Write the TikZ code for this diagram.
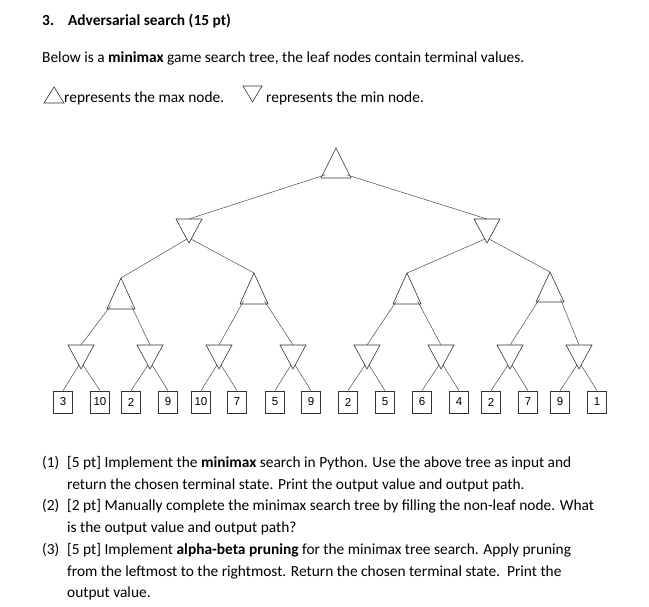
\documentclass[tikz,border=0pt]{standalone}
\usepackage{fontspec}
\setmainfont{Carlito}
\newfontfamily\leaffont{Liberation Sans}
\newcommand\MaxTri[5]{% name x ytop ybase halfwidth
  \draw[tri] (#2,#3) -- (#2+#5,#4) -- (#2-#5,#4) -- cycle;
  \coordinate (#1-in) at (#2,#3);
  \coordinate (#1-l) at (#2-0.75*#5,#4-3);
  \coordinate (#1-r) at (#2+0.75*#5,#4-3);}
\newcommand\MinTri[5]{%
  \draw[tri] (#2-#5,#3) -- (#2+#5,#3) -- (#2,#4) -- cycle;
  \coordinate (#1-in) at (#2,#3);
  \coordinate (#1-l) at (#2-2,#4-4);
  \coordinate (#1-r) at (#2+2,#4-4);}
\newcommand\Leaf[3]{%
  \node[leaf] (#1) at (#2,402) {#3};
  \coordinate (#1-in) at (#1.north);}
\begin{document}
\begin{tikzpicture}[x=1pt,y=-1pt,
  tri/.style={draw=black!80,line width=0.6pt,line join=miter},
  edge/.style={draw=black!70,line width=0.5pt},
  leaf/.style={draw=black!80,line width=0.6pt,minimum width=19pt,minimum height=22pt,inner sep=0pt,font=\leaffont\fontsize{11.5}{11.5}\selectfont},
  txt/.style={anchor=base west,inner sep=0pt,font=\fontsize{15.4}{17}\selectfont}]
\useasboundingbox (0,0) rectangle (649,607);
\node[txt] (t1) at (42,26) {\textbf{3.\hspace{14pt}Adversarial search (15 pt)}};
\node[txt] (t2) at (42,63) {Below is a \textbf{minimax} game search tree, the leaf nodes contain terminal values.};
\draw[tri] (44,103) -- (64,103) -- (54,87) -- cycle;
\node[txt] (t3) at (64,103) {represents the max node.};
\draw[tri] (243,86) -- (262,86) -- (252.5,102) -- cycle;
\node[txt] (t4) at (266,103) {represents the min node.};
% tree
\MaxTri{r}{336}{148}{178}{15}
\MinTri{a}{189}{219}{243}{13}
\MinTri{b}{487}{219}{243}{13}
\MaxTri{a1}{121}{278}{309}{14}
\MaxTri{a2}{254}{273}{304}{14}
\MaxTri{b1}{407}{273}{304}{14}
\MaxTri{b2}{550}{272}{302}{14}
\MinTri{m1}{81}{345}{369}{13}
\MinTri{m2}{150}{345}{369}{13}
\MinTri{m3}{219}{345}{369}{13}
\MinTri{m4}{293}{345}{369}{13}
\MinTri{m5}{367}{345}{369}{13}
\MinTri{m6}{441}{345}{369}{13}
\MinTri{m7}{510}{345}{369}{13}
\MinTri{m8}{579}{345}{369}{13}
\Leaf{l1}{63}{3}\Leaf{l2}{100}{10}\Leaf{l3}{131}{2}\Leaf{l4}{168}{9}
\Leaf{l5}{201}{10}\Leaf{l6}{237}{7}\Leaf{l7}{275}{5}\Leaf{l8}{311}{9}
\Leaf{l9}{348}{2}\Leaf{l10}{385}{5}\Leaf{l11}{422}{6}\Leaf{l12}{459}{4}
\Leaf{l13}{491}{2}\Leaf{l14}{528}{7}\Leaf{l15}{560}{9}\Leaf{l16}{597}{1}
\draw[edge] (r-l) -- (a-in) (r-r) -- (b-in);
\draw[edge] (a-l) -- (a1-in) (a-r) -- (a2-in) (b-l) -- (b1-in) (b-r) -- (b2-in);
\draw[edge] (a1-l) -- (m1-in) (a1-r) -- (m2-in) (a2-l) -- (m3-in) (a2-r) -- (m4-in)
  (b1-l) -- (m5-in) (b1-r) -- (m6-in) (b2-l) -- (m7-in) (b2-r) -- (m8-in);
\foreach \m/\i/\j in {m1/l1/l2,m2/l3/l4,m3/l5/l6,m4/l7/l8,m5/l9/l10,m6/l11/l12,m7/l13/l14,m8/l15/l16}
  \draw[edge] (\m-l) -- (\i-in) (\m-r) -- (\j-in);
% questions
\node[txt] (q1) at (42,467) {(1)};
\node[txt] (q1a) at (67,467) {[5 pt] Implement the \textbf{minimax} search in Python. Use the above tree as input and};
\node[txt] (q1b) at (67,489) {return the chosen terminal state. Print the output value and output path.};
\node[txt] (q2) at (42,510) {(2)};
\node[txt] (q2a) at (67,510) {[2 pt] Manually complete the minimax search tree by filling the non-leaf node. What};
\node[txt] (q2b) at (67,532) {is the output value and output path?};
\node[txt] (q3) at (42,554) {(3)};
\node[txt] (q3a) at (67,554) {[5 pt] Implement \textbf{alpha-beta pruning} for the minimax tree search. Apply pruning};
\node[txt] (q3b) at (67,576) {from the leftmost to the rightmost. Return the chosen terminal state.\ \ Print the};
\node[txt] (q3c) at (67,597) {output value.};
\end{tikzpicture}
\end{document}
